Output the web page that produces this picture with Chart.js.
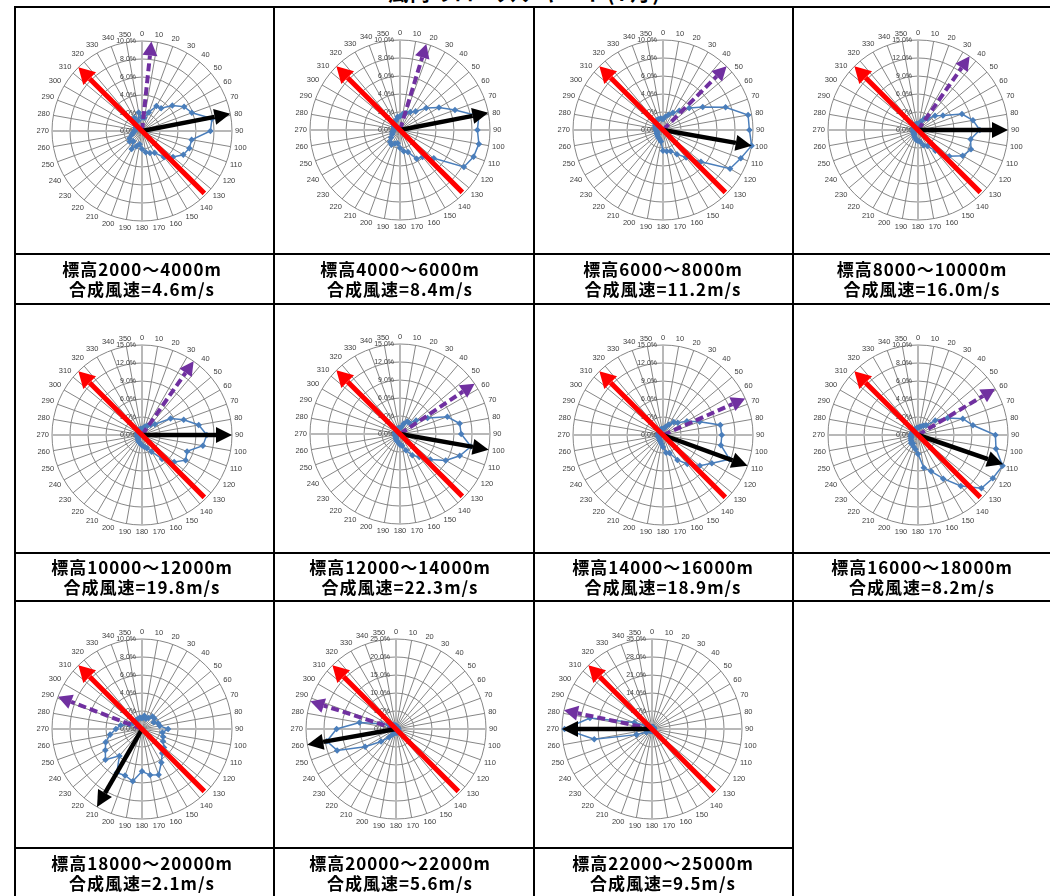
<!DOCTYPE html>
<html>
<head>
<meta charset="utf-8">
<script src="https://cdn.jsdelivr.net/npm/chart.js@4"></script>
<style>
  body { margin: 0; background: #fff; width: 1050px; height: 896px; overflow: hidden; position: relative; font-family: "Noto Sans CJK JP", sans-serif; }
  .h { position: absolute; height: 2px; background: #000; }
  .v { position: absolute; width: 2px; background: #000; }
  .lab { position: absolute; width: 258px; height: 40px; text-align: center; font-weight: bold; font-size: 17px; line-height: 20px; letter-spacing: 1px; color: #000; white-space: nowrap; }
  .title { position: absolute; left: 0; width: 1050px; top: -19px; text-align: center; font-weight: bold; font-size: 20px; line-height: 24px; letter-spacing: 2px; }
  canvas { position: absolute; }
</style>
</head>
<body>
<div class="title">風向のローズチャート(7月)</div>
<script>
// direction labels (deg)
const dirLabels = ['0','10','20','30','40','50','60','70','80','90','100','110','120','130','140','150','160','170',
                   '180','190','200','210','220','230','240','250','260','270','280','290','300','310','320','330','340','350'];

const heightRanges = ['標高2000～4000m','標高4000～6000m','標高6000～8000m','標高8000～10000m',
                      '標高10000～12000m','標高12000～14000m','標高14000～16000m','標高16000～18000m',
                      '標高18000～20000m','標高20000～22000m','標高22000～25000m'];
const windSpeeds = ['合成風速=4.6m/s','合成風速=8.4m/s','合成風速=11.2m/s','合成風速=16.0m/s',
                    '合成風速=19.8m/s','合成風速=22.3m/s','合成風速=18.9m/s','合成風速=8.2m/s',
                    '合成風速=2.1m/s','合成風速=5.6m/s','合成風速=9.5m/s'];

// frequency (%) per direction
const freq2000  = [1.5,1.5,2.2,3.2,3.3,4.4,5.4,5.9,7.9,7.6,5.6,5.6,5.3,4.5,3.8,2.8,2.6,2.4,2.0,1.5,1.8,2.3,1.5,1.8,1.6,1.2,1.0,0.8,0.8,0.7,0.8,0.9,1.2,1.7,1.2,2.1];
const freq4000  = [1.5,1.8,2.0,2.3,2.7,3.8,5.0,6.5,8.9,8.6,8.9,8.7,8.2,4.9,3.9,3.7,2.6,2.4,2.0,1.5,1.6,1.9,1.7,1.3,1.0,0.9,0.8,0.7,0.7,0.7,0.8,0.9,1.0,1.1,1.2,1.5];
const freq6000  = [1.2,1.5,1.8,2.2,2.8,3.8,5.1,7.4,9.6,9.6,10.0,9.2,8.6,5.5,4.0,3.1,2.5,2.4,2.3,1.3,1.1,1.0,0.9,0.8,0.8,0.7,0.7,0.8,0.8,0.9,1.0,1.1,1.2,1.3,1.3,1.3];
const freq8000  = [1.0,1.2,1.5,2.2,2.5,3.7,4.8,7.8,9.3,10.3,8.9,9.4,8.6,6.8,4.5,3.1,2.7,2.0,1.8,1.7,1.4,1.2,1.0,0.9,0.9,0.8,0.8,0.8,0.8,0.8,0.8,0.9,1.0,1.0,1.0,1.0];
const freq10000 = [1.0,1.2,1.5,1.8,2.2,2.8,5.5,7.4,9.6,10.8,10.3,8.0,8.4,7.0,5.2,3.2,2.3,2.0,1.7,1.5,1.3,1.2,1.0,0.9,0.8,0.8,0.8,0.8,0.8,0.8,0.8,0.9,0.9,1.0,1.0,1.0];
const freq12000 = [1.0,1.2,1.8,2.4,2.4,3.5,5.3,8.4,10.1,10.2,12.0,10.6,8.8,6.6,5.0,4.1,2.9,2.0,1.8,1.5,1.3,1.2,1.0,0.9,0.8,0.8,0.8,0.8,0.8,0.8,0.8,0.8,0.9,0.9,1.0,1.0];
const freq14000 = [1.0,1.2,1.5,2.0,2.8,3.2,4.6,6.5,9.7,9.8,9.8,11.8,9.4,8.0,6.3,4.8,3.2,3.0,2.0,1.5,1.2,1.0,0.9,0.8,0.8,0.8,0.8,0.8,0.8,0.8,0.8,0.8,0.9,0.9,1.0,1.0];
const freq16000 = [0.8,0.9,1.0,1.2,1.4,2.5,3.8,5.3,6.2,8.6,8.8,10.0,9.6,9.2,7.4,5.6,4.3,3.7,2.1,1.6,1.4,1.1,1.2,1.0,0.9,0.8,0.8,0.8,0.7,0.7,0.7,0.7,0.7,0.7,0.7,0.8];
const freq18000 = [1.2,1.5,1.2,1.4,1.8,1.8,1.5,1.9,2.0,2.9,2.3,2.5,2.7,3.2,3.5,4.3,5.4,5.2,4.7,5.9,5.5,5.6,3.9,5.3,4.7,4.3,3.6,2.9,2.4,1.5,1.2,1.2,1.1,1.2,1.2,1.3];
const freq20000 = [1.0,0.8,0.7,0.6,0.6,0.6,0.6,0.6,0.6,0.6,0.6,0.7,0.8,1.0,1.0,1.0,1.0,1.0,1.0,1.0,1.2,1.8,3.0,5.4,9.9,17.4,19.5,16.5,10.3,4.3,2.5,1.8,1.5,1.2,1.0,1.0];
const freq22000 = [0.8,0.8,0.8,0.8,0.8,0.8,0.8,0.8,0.8,0.8,0.8,0.8,0.8,0.8,0.8,0.8,0.8,0.8,0.8,0.8,0.8,0.8,0.9,1.0,2.5,6.4,22.8,34.0,24.5,7.3,2.5,1.2,1.0,0.9,0.8,0.8];

const freqs = [freq2000, freq4000, freq6000, freq8000, freq10000, freq12000, freq14000, freq16000, freq18000, freq20000, freq22000];

// radial axis max and step (%)
const axisMax  = [10, 10, 10, 15, 15, 15, 15, 10, 10, 25, 35];
const axisStep = [2, 2, 2, 3, 3, 3, 3, 2, 2, 5, 7];

// arrow directions (deg): resultant wind (black), mean (purple dashed), reference (red)
const resultDir = [79, 79, 100, 90, 90, 100, 110, 109, 210, 260, 270];
const meanDir   = [6, 17, 45, 35, 35, 56, 66, 59, 291, 288, 282];
const refDir    = [315, 135];

// page layout
const chartCx = [142, 400, 663, 918, 142, 400, 663, 918, 142, 396, 652];
const chartCy = [131, 130, 130, 130, 435, 434, 435, 435, 729, 729, 729];
const labelCx = [142, 400, 663, 922];
const labelCy = [279, 577, 873];
const R = 90;

function line(cls, x, y, len) {
  const d = document.createElement('div');
  d.className = cls;
  d.style.left = x + 'px';
  d.style.top = y + 'px';
  if (cls === 'h') d.style.width = len + 'px'; else d.style.height = len + 'px';
  document.body.appendChild(d);
}
[6, 253, 303, 552, 600].forEach(y => line('h', 14, y, 1040));
line('h', 14, 847, 780);
[14, 273, 533].forEach(x => line('v', x, 6, 900));
line('v', 792, 6, 900);

function polar(s, deg, value) {
  const r = s.getDistanceFromCenterForValue(value);
  const a = deg * Math.PI / 180;
  return { x: s.xCenter + Math.sin(a) * r, y: s.yCenter - Math.cos(a) * r };
}

function arrow(ctx, p0, p1, color, lw, head, hw, dash) {
  const ang = Math.atan2(p1.y - p0.y, p1.x - p0.x);
  const bx = p1.x - Math.cos(ang) * head, by = p1.y - Math.sin(ang) * head;
  ctx.save();
  ctx.strokeStyle = color;
  ctx.lineWidth = lw;
  ctx.setLineDash(dash || []);
  ctx.beginPath();
  ctx.moveTo(p0.x, p0.y);
  ctx.lineTo(bx, by);
  ctx.stroke();
  ctx.setLineDash([]);
  ctx.fillStyle = color;
  ctx.beginPath();
  ctx.moveTo(p1.x, p1.y);
  ctx.lineTo(bx + Math.sin(ang) * hw / 2, by - Math.cos(ang) * hw / 2);
  ctx.lineTo(bx - Math.sin(ang) * hw / 2, by + Math.cos(ang) * hw / 2);
  ctx.closePath();
  ctx.fill();
  ctx.restore();
}

const roseDecor = {
  id: 'roseDecor',
  beforeDatasetsDraw(chart) {
    const s = chart.scales.r, ctx = chart.ctx;
    ctx.save();
    ctx.font = '7.5px "Liberation Sans", Arial, sans-serif';
    ctx.fillStyle = '#404040';
    ctx.textAlign = 'center';
    ctx.textBaseline = 'middle';
    chart.data.labels.forEach((lab, i) => {
      const w = ctx.measureText(lab).width;
      const a = s.getIndexAngle(i);
      const d = s.drawingArea + 3 + Math.abs(Math.sin(a)) * w / 2 + Math.abs(Math.cos(a)) * 4;
      const p = s.getPointPosition(i, d);
      ctx.fillText(lab, p.x, p.y);
    });
    ctx.font = '7px "Liberation Sans", Arial, sans-serif';
    ctx.textAlign = 'right';
    s.ticks.forEach(t => {
      const y = s.yCenter - s.getDistanceFromCenterForValue(t.value);
      ctx.fillText(t.value.toFixed(1) + '%', s.xCenter - 6, y);
    });
    ctx.restore();
  },
  afterDatasetsDraw(chart) {
    const s = chart.scales.r, ctx = chart.ctx, k = chart.options.plugins.roseDecor.k;
    const c = { x: s.xCenter, y: s.yCenter };
    arrow(ctx, c, polar(s, meanDir[k], s.max), '#7030A0', 4, 14, 15, [8, 4]);
    arrow(ctx, c, polar(s, resultDir[k], s.max), '#000000', 4.5, 16, 16);
    arrow(ctx, polar(s, refDir[1], s.max * 0.98), polar(s, refDir[0], s.max), '#FF0000', 5, 16, 18);
  }
};

freqs.forEach((data, k) => {
  const cv = document.createElement('canvas');
  cv.width = 260; cv.height = 260;
  cv.style.left = (chartCx[k] - 130) + 'px';
  cv.style.top = (chartCy[k] - 130) + 'px';
  document.body.appendChild(cv);

  new Chart(cv.getContext('2d'), {
    type: 'radar',
    data: {
      labels: dirLabels,
      datasets: [{
        data: data,
        borderColor: '#4A7EBB',
        backgroundColor: '#4A7EBB',
        borderWidth: 1.5,
        fill: false,
        pointStyle: 'rectRot',
        pointRadius: 2.2,
        pointBackgroundColor: '#4A7EBB',
        pointBorderColor: '#4A7EBB'
      }]
    },
    options: {
      responsive: false,
      animation: false,
      layout: { padding: 130 - R },
      plugins: { legend: { display: false }, tooltip: { enabled: false }, roseDecor: { k: k } },
      scales: {
        r: {
          min: 0,
          max: axisMax[k],
          ticks: { stepSize: axisStep[k], display: false },
          pointLabels: { display: false },
          grid: { circular: true, color: '#868686', lineWidth: 1 },
          angleLines: {
            color: ctx => (ctx.index % 9 === 0 ? '#b8b8b8' : '#868686'),
            lineWidth: ctx => (ctx.index % 9 === 0 ? 2 : 1)
          }
        }
      }
    },
    plugins: [roseDecor]
  });

  const col = k % 4, row = Math.floor(k / 4);
  const lab = document.createElement('div');
  lab.className = 'lab';
  lab.style.left = (labelCx[col] - 129) + 'px';
  lab.style.top = (labelCy[row] - 20) + 'px';
  lab.innerHTML = heightRanges[k] + '<br>' + windSpeeds[k];
  document.body.appendChild(lab);
});
</script>
</body>
</html>
